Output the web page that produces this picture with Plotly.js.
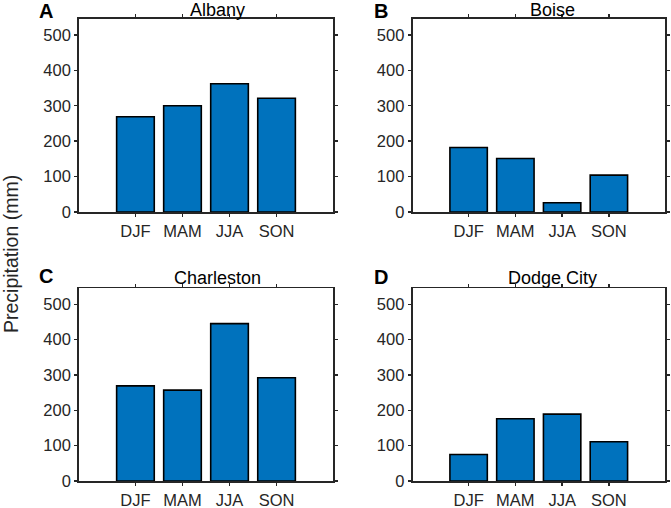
<!DOCTYPE html>
<html>
<head>
<meta charset="utf-8">
<script src="https://cdn.plot.ly/plotly-3.0.1.min.js"></script>
<style>html,body{margin:0;padding:0;background:#fff}#chart{width:671px;height:508px}</style>
</head>
<body>
<div id="chart"></div>
<script>
const seasons = ["DJF", "MAM", "JJA", "SON"];
const cities = ["Albany", "Boise", "Charleston", "Dodge City"];
const panelLetters = ["A", "B", "C", "D"];
const albany = [269, 300, 362, 321];
const boise = [182, 151, 26, 104];
const charleston = [269, 257, 445, 292];
const dodgeCity = [75, 176, 189, 111];
const seriesValues = [albany, boise, charleston, dodgeCity];
const yTickVals = [0, 100, 200, 300, 400, 500];

const W = 671, H = 508;
const px = v => v / W;
const py = v => 1 - v / H;

const xDomains = [[px(79), px(333)], [px(412.5), px(665)], [px(79), px(333)], [px(412.5), px(665)]];
const yDomains = [[py(212), py(19)], [py(212), py(19)], [py(481), py(288.3)], [py(481), py(288.3)]];
const titlePos = [[218, 10], [552, 10], [218, 278], [552, 278]];
const letterPos = [[46, 11], [380.5, 11], [46, 276], [380.5, 277]];

const axColor = '#262626';
const tickFont = {family: 'Liberation Sans, Arial, sans-serif', size: 16.5, color: axColor};

const data = [];
const layout = {
  width: W, height: H,
  margin: {l: 0, r: 0, t: 0, b: 0},
  paper_bgcolor: '#fff', plot_bgcolor: '#fff',
  showlegend: false,
  annotations: []
};

for (let i = 0; i < 4; i++) {
  const sfx = i === 0 ? '' : String(i + 1);
  data.push({
    type: 'bar',
    x: seasons,
    y: seriesValues[i],
    width: 0.8,
    xaxis: 'x' + sfx,
    yaxis: 'y' + sfx,
    marker: {color: '#0072BD', line: {color: '#000', width: 1.6}},
    hoverinfo: 'x+y'
  });
  layout['xaxis' + sfx] = {
    domain: xDomains[i],
    anchor: 'y' + sfx,
    type: 'category',
    range: [-1.2, 4.2],
    showgrid: false, zeroline: false,
    showline: true, mirror: 'ticks',
    linecolor: axColor, linewidth: 1.8,
    ticks: 'outside', ticklen: 3, tickwidth: 1.4, tickcolor: axColor,
    tickfont: tickFont,
    fixedrange: true
  };
  layout['yaxis' + sfx] = {
    domain: yDomains[i],
    anchor: 'x' + sfx,
    range: [0, 545],
    tickvals: yTickVals,
    showgrid: false, zeroline: false,
    showline: true, mirror: 'ticks',
    linecolor: axColor, linewidth: 1.8,
    ticks: 'outside', ticklen: 3, tickwidth: 1.4, tickcolor: axColor,
    tickfont: tickFont,
    fixedrange: true
  };
  layout.annotations.push({
    text: cities[i], xref: 'paper', yref: 'paper',
    x: px(titlePos[i][0]), y: py(titlePos[i][1]),
    xanchor: 'center', yanchor: 'middle', showarrow: false,
    font: {family: 'Liberation Sans, Arial, sans-serif', size: 18, color: '#000'}
  });
  layout.annotations.push({
    text: '<b>' + panelLetters[i] + '</b>', xref: 'paper', yref: 'paper',
    x: px(letterPos[i][0]), y: py(letterPos[i][1]),
    xanchor: 'center', yanchor: 'middle', showarrow: false,
    font: {family: 'Liberation Sans, Arial, sans-serif', size: 20, color: '#000'}
  });
}

layout.annotations.push({
  text: 'Precipitation (mm)', xref: 'paper', yref: 'paper',
  x: px(11), y: py(254), textangle: -90,
  xanchor: 'center', yanchor: 'middle', showarrow: false,
  font: {family: 'Liberation Sans, Arial, sans-serif', size: 19.5, color: axColor}
});

Plotly.newPlot('chart', data, layout, {displayModeBar: false, staticPlot: true});
</script>
</body>
</html>
